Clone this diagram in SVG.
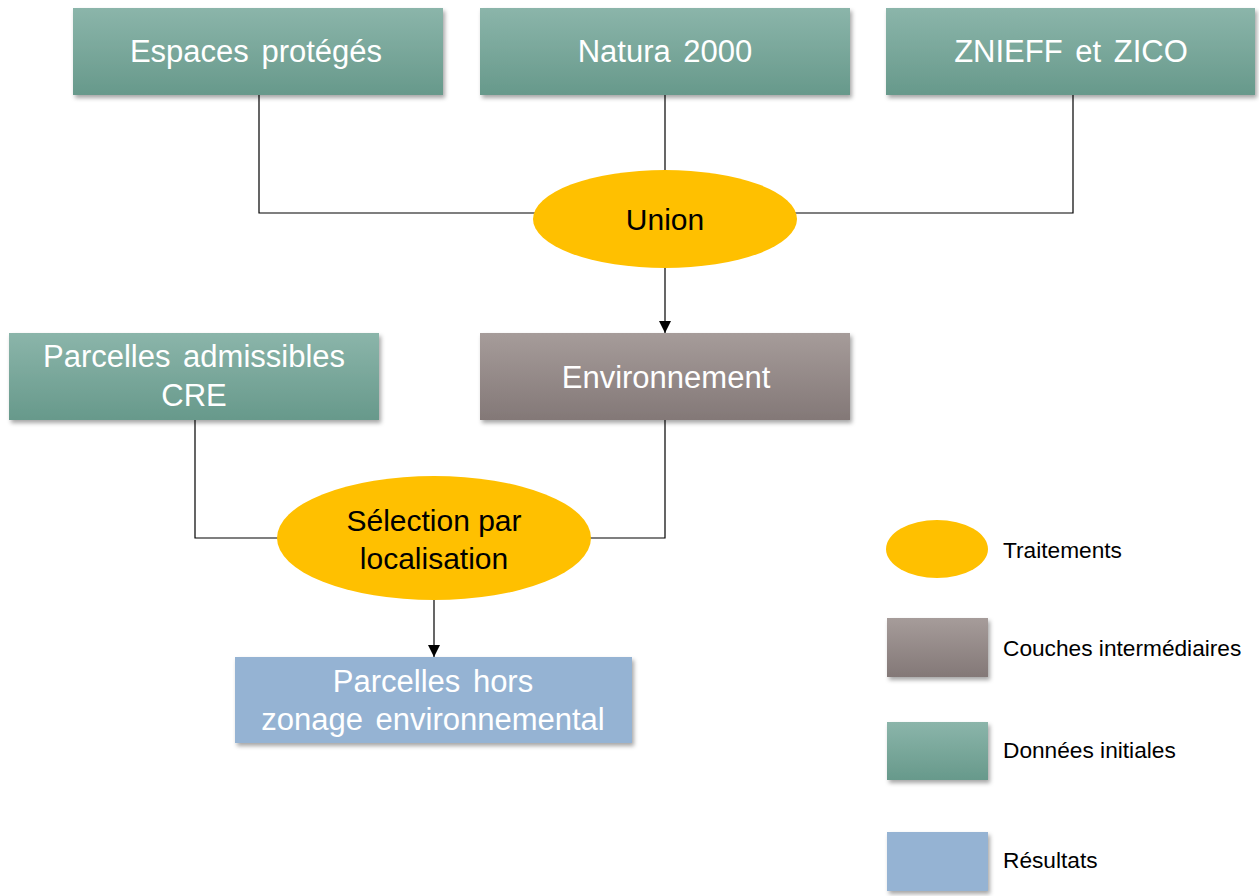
<svg xmlns="http://www.w3.org/2000/svg" width="1259" height="896" viewBox="0 0 1259 896">
<defs>
<linearGradient id="gGreen" x1="0" y1="0" x2="0" y2="1"><stop offset="0" stop-color="#8BB5AA"/><stop offset="1" stop-color="#67998B"/></linearGradient>
<linearGradient id="gBrown" x1="0" y1="0" x2="0" y2="1"><stop offset="0" stop-color="#A69C9A"/><stop offset="1" stop-color="#837877"/></linearGradient>
<filter id="sh" x="-10%" y="-10%" width="125%" height="135%"><feDropShadow dx="2" dy="3" stdDeviation="2" flood-color="#000" flood-opacity="0.35"/></filter>
<marker id="arr" markerWidth="12" markerHeight="12" viewBox="0 0 12 12" refX="12" refY="6" orient="auto" markerUnits="userSpaceOnUse"><path d="M0,0 L12,6 L0,12 Z" fill="#000"/></marker>
</defs>
<style>
.green{fill:url(#gGreen);filter:url(#sh)}
.brown{fill:url(#gBrown);filter:url(#sh)}
.blue{fill:#95B3D3;filter:url(#sh)}
.proc{fill:#FFC000}
.wt{font-family:"Liberation Sans",Arial,sans-serif;font-size:31px;fill:#fff;text-anchor:middle;word-spacing:4px}
.bt{font-family:"Liberation Sans",Arial,sans-serif;font-size:30px;fill:#000;text-anchor:middle}
.lt{font-family:"Liberation Sans",Arial,sans-serif;font-size:22.7px;fill:#000}
.ln{fill:none;stroke:#000;stroke-width:1.2}
</style>
<g id="connectors">
<polyline class="ln" points="259,95 259,213 540,213"/>
<line class="ln" x1="665" y1="95" x2="665" y2="172"/>
<polyline class="ln" points="1073,95 1073,213 790,213"/>
<line class="ln" x1="665" y1="268" x2="665" y2="333" marker-end="url(#arr)"/>
<polyline class="ln" points="195,420 195,538 278,538"/>
<polyline class="ln" points="665,420 665,538 590,538"/>
<line class="ln" x1="434" y1="600" x2="434" y2="657" marker-end="url(#arr)"/>
</g>
<g id="espaces"><rect class="green" x="73" y="8" width="370" height="87"/><text class="wt" x="256" y="62">Espaces protégés</text></g>
<g id="natura"><rect class="green" x="480" y="8" width="370" height="87"/><text class="wt" x="665" y="62">Natura 2000</text></g>
<g id="znieff"><rect class="green" x="886" y="8" width="369" height="87"/><text class="wt" x="1071" y="62">ZNIEFF et ZICO</text></g>
<g id="union"><ellipse class="proc" cx="665" cy="219" rx="132" ry="49"/><text class="bt" x="665" y="230">Union</text></g>
<g id="environnement"><rect class="brown" x="480" y="333" width="370" height="87"/><text class="wt" x="666" y="388">Environnement</text></g>
<g id="parcelles-cre"><rect class="green" x="9" y="333" width="370" height="87"/><text class="wt" x="194" y="367">Parcelles admissibles</text><text class="wt" x="194" y="406">CRE</text></g>
<g id="selection"><ellipse class="proc" cx="434" cy="538" rx="157" ry="62"/><text class="bt" x="434" y="531">Sélection par</text><text class="bt" x="434" y="569">localisation</text></g>
<g id="resultat"><rect class="blue" x="235" y="657" width="397" height="86"/><text class="wt" x="433" y="692">Parcelles hors</text><text class="wt" x="433" y="730">zonage environnemental</text></g>
<g id="legend">
<ellipse class="proc" cx="937" cy="549" rx="51" ry="29"/>
<text class="lt" x="1003" y="558">Traitements</text>
<rect class="brown" x="887" y="618" width="101" height="59"/>
<text class="lt" x="1003" y="656">Couches intermédiaires</text>
<rect class="green" x="887" y="722" width="101" height="58"/>
<text class="lt" x="1003" y="758">Données initiales</text>
<rect class="blue" x="887" y="832" width="101" height="59"/>
<text class="lt" x="1003" y="868">Résultats</text>
</g>
</svg>
